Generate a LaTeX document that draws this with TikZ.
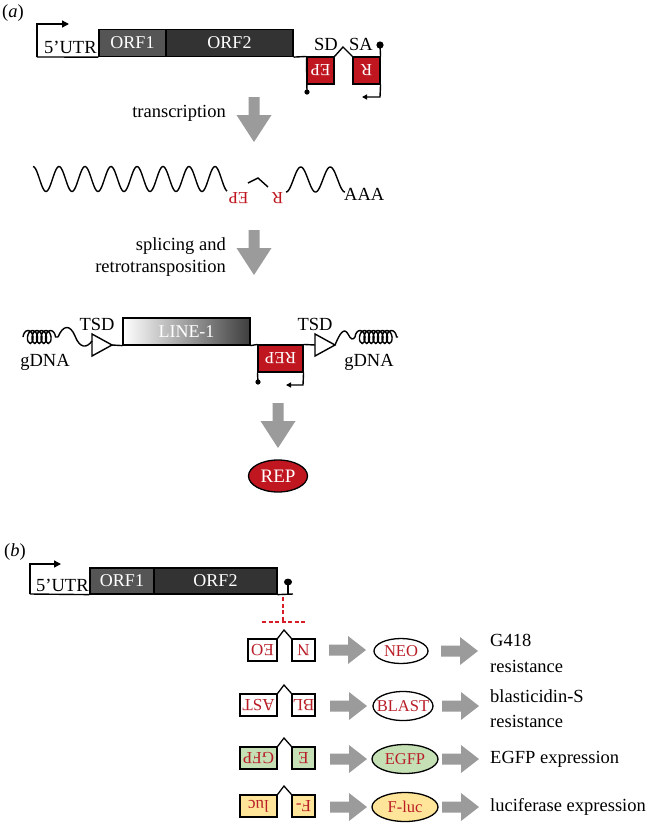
\documentclass[tikz,border=0pt]{standalone}
\usepackage{fontspec}
\usepackage{graphicx}
\setmainfont{Liberation Serif}
\usetikzlibrary{arrows.meta,decorations.pathmorphing,shapes.geometric}
\definecolor{repred}{RGB}{192,22,32}
\definecolor{txtred}{RGB}{185,30,40}
\definecolor{dashred}{RGB}{215,30,40}
\definecolor{orfa}{RGB}{85,85,85}
\definecolor{orfb}{RGB}{51,51,51}
\definecolor{arrgray}{RGB}{155,155,155}
\definecolor{egfp}{RGB}{197,224,180}
\definecolor{fluc}{RGB}{255,229,153}
\definecolor{l1dark}{RGB}{62,62,62}
\newcommand{\upsd}[1]{\rotatebox[origin=c]{180}{#1}}
\tikzset{
  lbl/.style={font=\fontsize{18.5}{21.5}\selectfont, inner sep=0},
  ln/.style={line width=1.4pt},
  orf/.style={draw=black, line width=1.2pt, inner sep=0, text=white, font=\fontsize{18}{20}\selectfont},
  rbox/.style={draw=black, line width=1.1pt, fill=repred, inner sep=0, text=white, font=\fontsize{17}{19}\selectfont},
  pbox/.style={draw=black, line width=1.3pt, inner sep=0, text=txtred, font=\fontsize{17}{19}\selectfont, minimum height=22},
  ptxt/.style={inner sep=0, text=txtred, font=\fontsize{16.5}{18}\selectfont},
  ell/.style={draw=black, line width=1.3pt},
  bigtip/.style={-{Triangle[length=7pt,width=7pt]}},
  smalltip/.style={-{Triangle[length=5pt,width=5pt]}},
  downarr/.pic={\fill[arrgray] (-5.5,0) -- (5.5,0) -- (5.5,18) -- (17.5,18) -- (0,45) -- (-17.5,18) -- (-5.5,18) -- cycle;},
  rightarr/.pic={\fill[arrgray] (0,-5.5) -- (19,-5.5) -- (19,-14) -- (37,0) -- (19,14) -- (19,5.5) -- (0,5.5) -- cycle;}
}
\begin{document}
\begin{tikzpicture}[x=1pt,y=-1pt]
\useasboundingbox (0,0) rectangle (649,823);
\fill[white] (0,0) rectangle (649,823);

% ================= panel (a) =================
\node[lbl, anchor=west] (la) at (2,13) {\textup{(}\textit{a}\textup{)}};

% promoter arrow and baseline
\coordinate (pa0) at (37,57);
\coordinate (pa1) at (37,24);
\coordinate (pa2) at (69,24);
\draw[ln, bigtip] (pa0) -- (pa1) -- (pa2);
\node[orf, fill=orfa, minimum width=67, minimum height=27] (orf1) at (132.5,43) {ORF1};
\node[orf, fill=orfb, minimum width=127, minimum height=27] (orf2) at (229.5,43) {ORF2};
\node[lbl, anchor=base west] (utr) at (44,53) {5’UTR};
\draw[ln] (pa0) -- (orf1.south west);

% reporter cassette
\node[rbox, minimum width=27, minimum height=27] (ep) at (320.5,70.5) {\upsd{EP}};
\node[rbox, minimum width=27, minimum height=27] (rr) at (366.5,70.5) {\upsd{R}};
\draw[ln] (orf2.south east) -- (ep.north west);
\coordinate (hatA) at (343,47);
\draw[ln] (ep.north east) -- (hatA) -- (rr.north west);
\coordinate (epd) at (307,92);
\draw[ln] (ep.north west) -- (epd);
\fill (epd) circle (2.6);
\coordinate (rtop) at (380,45);
\coordinate (rbot) at (380,97);
\coordinate (rarr) at (362,97);
\draw[ln] (rtop) -- (rr.north east);
\draw[ln, smalltip] (rr.south east) -- (rbot) -- (rarr);
\fill (rtop) circle (3.6);
\node[lbl] (sd) at (326,44) {SD};
\node[lbl] (sa) at (361,44) {SA};

% transcription
\pic at (254,97) {downarr};
\node[lbl, anchor=east] (ttx) at (226,113) {transcription};

% RNA
\draw[ln] plot[domain=33:227, samples=160, smooth] (\x, {179 - 12.5*cos(13.846*(\x-33))});
\coordinate (wh0) at (248,183);
\coordinate (wh1) at (258,178);
\coordinate (wh2) at (268,187);
\draw[ln] (wh0) -- (wh1) -- (wh2);
\draw[ln] plot[domain=286:345, samples=80, smooth] (\x, {179.5 + 12.5*cos(12.203*(\x-286))});
\node[ptxt, text=repred, font=\fontsize{17}{19}\selectfont] (wep) at (238.5,198) {\upsd{EP}};
\node[ptxt, text=repred, font=\fontsize{17}{19}\selectfont] (wr) at (277.5,198) {\upsd{R}};
\node[lbl, anchor=west] (aaa) at (344,194) {AAA};

% splicing and retrotransposition
\pic at (254,230) {downarr};
\node[lbl, anchor=east, align=right] (stx) at (226,257) {splicing and\\retrotransposition};

% integrated LINE-1
\node[draw=black, line width=1.2pt, inner sep=0, minimum width=127, minimum height=27,
      left color=white, right color=l1dark, text=white, font=\fontsize{18}{20}\selectfont] (line1) at (186.5,331.5) {LINE-1};
\node[rbox, minimum width=45, minimum height=27] (rep) at (280.5,358.5) {\upsd{REP}};
\coordinate (tl0) at (92,334);
\coordinate (tl1) at (112,345);
\coordinate (tl2) at (92,356);
\coordinate (tr0) at (315,334);
\coordinate (tr1) at (335,345);
\coordinate (tr2) at (315,356);
\coordinate (trb) at (315,345);
\draw[ln, fill=white, line join=miter] (tl0) -- (tl1) -- (tl2) -- cycle;
\draw[ln, fill=white, line join=miter] (tr0) -- (tr1) -- (tr2) -- cycle;
\draw[ln] (tl1) -- (line1.south west);
\draw[ln] (line1.south east) -- (rep.north west);
\draw[ln] (rep.north east) -- (trb);
\coordinate (repd) at (258,382);
\coordinate (repb) at (303,385);
\coordinate (repa) at (286,385);
\draw[ln] (rep.south west) -- (repd);
\fill (repd) circle (2.6);
\draw[ln, smalltip] (rep.south east) -- (repb) -- (repa);

% gDNA coils
\coordinate (gl0) at (23,337);
\coordinate (gl1) at (58,337);
\draw[ln, decorate, decoration={coil, amplitude=6.5pt, segment length=4.5pt, aspect=0.6}] (gl0) -- (gl1);
\draw[ln] (gl1) .. controls (63,325) and (70,324) .. (75,336) .. controls (80,349) and (87,348) .. (92,341);
\coordinate (gr0) at (355,337);
\coordinate (gr1) at (398,337);
\draw[ln] (tr1) .. controls (340,333) and (344,327) .. (348,334) .. controls (351,340) and (353,340) .. (gr0);
\draw[ln, decorate, decoration={coil, amplitude=6.5pt, segment length=4.5pt, aspect=0.6}] (gr0) -- (gr1);
\node[lbl] (tsdl) at (97,324) {TSD};
\node[lbl] (tsdr) at (315,324) {TSD};
\node[lbl] (gdl) at (45,362) {gDNA};
\node[lbl] (gdr) at (369,362) {gDNA};

% expression
\pic at (278,403) {downarr};
\draw[ell, fill=repred] (278,476) ellipse [x radius=29.5, y radius=16];
\node[inner sep=0, text=white, font=\fontsize{19}{21}\selectfont] (repp) at (278,476) {REP};

% ================= panel (b) =================
\node[lbl, anchor=west] (lb) at (4,552) {\textup{(}\textit{b}\textup{)}};
\coordinate (pb0) at (30,594);
\coordinate (pb1) at (30,564);
\coordinate (pb2) at (61,564);
\draw[ln, bigtip] (pb0) -- (pb1) -- (pb2);
\node[orf, fill=orfa, minimum width=64, minimum height=26] (orf1b) at (122,581) {ORF1};
\node[orf, fill=orfb, minimum width=123, minimum height=26] (orf2b) at (215.5,581) {ORF2};
\node[lbl, anchor=base west] (utrb) at (36,591) {5’UTR};
\draw[ln] (pb0) -- (orf1b.south west);
\coordinate (pbe) at (293,594);
\draw[ln] (orf2b.south east) -- (pbe);
\coordinate (tb0) at (288,594);
\coordinate (tb1) at (288,582);
\draw[ln] (tb0) -- (tb1);
\fill (tb1) ellipse [x radius=4, y radius=3.4];
\coordinate (dv0) at (283,597);
\coordinate (dv1) at (283,622);
\coordinate (dh0) at (262,622);
\coordinate (dh1) at (305,622);
\draw[dashred, line width=1.1pt, dash pattern=on 4pt off 2.5pt] (dv0) -- (dv1);
\draw[dashred, line width=1.1pt, dash pattern=on 4pt off 2.5pt] (dh0) -- (dh1);

% row 1: NEO
\node[pbox, minimum width=29] (neoL) at (262.5,650) {\upsd{EO}};
\node[pbox, minimum width=23] (neoR) at (303.5,650) {\upsd{N}};
\coordinate (neoH) at (284,630);
\draw[line width=1.3pt] (neoL.north east) -- (neoH) -- (neoR.north west);
\pic at (329,650) {rightarr};
\draw[ell, fill=white] (401,651) ellipse [x radius=27, y radius=12.5];
\node[ptxt] (neo) at (401,651) {NEO};
\pic at (441,651) {rightarr};
\node[lbl, anchor=west, align=left, font=\fontsize{18.5}{26}\selectfont] (neot) at (490,653) {G418\\resistance};

% row 2: BLAST
\node[pbox, minimum width=37] (blL) at (258.5,705) {\upsd{AST}};
\node[pbox, minimum width=23] (blR) at (303.5,705) {\upsd{BL}};
\coordinate (blH) at (284,685);
\draw[line width=1.3pt] (blL.north east) -- (blH) -- (blR.north west);
\pic at (330,706) {rightarr};
\draw[ell, fill=white] (403,706) ellipse [x radius=30, y radius=14.5];
\node[ptxt] (blast) at (403,706) {BLAST};
\pic at (442,706) {rightarr};
\node[lbl, anchor=west, align=left, font=\fontsize{18.5}{25}\selectfont] (blt) at (490,709) {blasticidin-S\\resistance};

% row 3: EGFP
\node[pbox, minimum width=37, fill=egfp] (egL) at (258.5,758) {\upsd{GFP}};
\node[pbox, minimum width=23, fill=egfp] (egR) at (303.5,758) {\upsd{E}};
\coordinate (egH) at (284,738);
\draw[line width=1.3pt] (egL.north east) -- (egH) -- (egR.north west);
\pic at (330,759) {rightarr};
\draw[ell, fill=egfp] (405,759) ellipse [x radius=33, y radius=14.5];
\node[ptxt] (egfp) at (405,759) {EGFP};
\pic at (442,759) {rightarr};
\node[lbl, anchor=west] (egt) at (490,759) {EGFP expression};

% row 4: F-luc
\node[pbox, minimum width=37, fill=fluc] (flL) at (258.5,806) {\upsd{luc}};
\node[pbox, minimum width=23, fill=fluc] (flR) at (303.5,806) {\upsd{F-}};
\coordinate (flH) at (284,786);
\draw[line width=1.3pt] (flL.north east) -- (flH) -- (flR.north west);
\pic at (330,807) {rightarr};
\draw[ell, fill=fluc] (405,807) ellipse [x radius=33, y radius=14.5];
\node[ptxt] (fluc) at (405,807) {F-luc};
\pic at (442,807) {rightarr};
\node[lbl, anchor=west] (flt) at (490,807) {luciferase expression};
\end{tikzpicture}
\end{document}
